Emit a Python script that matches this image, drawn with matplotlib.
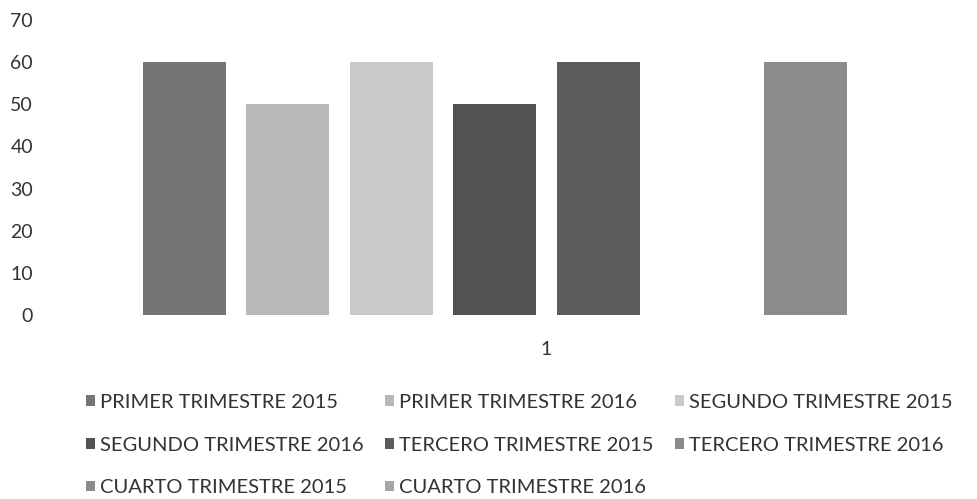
import matplotlib.pyplot as plt

FONT = "Lato"

series = [
    "PRIMER TRIMESTRE 2015",
    "PRIMER TRIMESTRE 2016",
    "SEGUNDO TRIMESTRE 2015",
    "SEGUNDO TRIMESTRE 2016",
    "TERCERO TRIMESTRE 2015",
    "TERCERO TRIMESTRE 2016",
    "CUARTO TRIMESTRE 2015",
    "CUARTO TRIMESTRE 2016",
]
values = [60, 50, 60, 50, 60, 0, 60, 0]
category = "1"
yticks = [0, 10, 20, 30, 40, 50, 60, 70]

colors = ["#747474", "#b8b8b8", "#c9c9c9", "#525252",
          "#5c5c5c", "#8a8a8a", "#8c8c8c", "#a6a6a6"]

plt.rcParams["font.family"] = [FONT, "DejaVu Sans"]

fig = plt.figure(figsize=(9.77, 4.99), dpi=100)
ax = fig.add_axes([122 / 977, 184 / 499, 849 / 977, 295 / 499])

handles = []
for i, (name, v) in enumerate(zip(series, values)):
    b = ax.bar(i, v, width=0.8, color=colors[i], label=name, linewidth=0)
    handles.append(b)

ax.set_xlim(-0.6, 7.6)
ax.set_ylim(0, 70)
ax.set_yticks(yticks)
ax.set_yticklabels([str(t) for t in yticks], fontsize=14, color="#333333")
ax.set_xticks([(len(series) - 1) / 2])
ax.set_xticklabels([category], fontsize=14, color="#333333")
ax.tick_params(axis="y", length=0, pad=64)
ax.tick_params(axis="x", length=0, pad=19)
for s in ax.spines.values():
    s.set_visible(False)

# legend is filled row by row in the original, matplotlib fills columns
order = [0, 3, 6, 1, 4, 7, 2, 5]
fig.legend(
    [handles[i] for i in order],
    [series[i] for i in order],
    ncol=3,
    loc="upper left",
    bbox_to_anchor=(86 / 977, 1 - 394 / 499),
    frameon=False,
    fontsize=14.5,
    handlelength=0.45,
    handleheight=0.45,
    handletextpad=0.25,
    columnspacing=1.05,
    labelspacing=1.27,
    borderpad=0,
    borderaxespad=0,
    labelcolor="#333333",
)

fig.savefig("out.png", dpi=100, facecolor="white")
